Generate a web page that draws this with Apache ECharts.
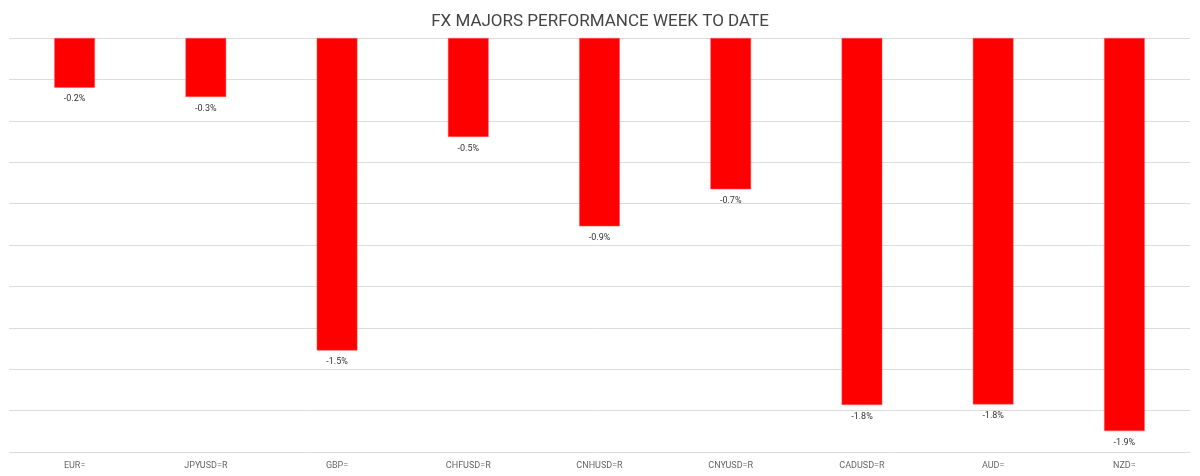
<!DOCTYPE html>
<html>
<head>
<meta charset="utf-8">
<title>FX majors</title>
<script src="https://cdn.jsdelivr.net/npm/echarts@6/dist/echarts.min.js"></script>
<style>
  *{margin:0;padding:0;}
  html,body{width:1200px;height:476px;background:#fff;}
  #main{width:1200px;height:476px;}
</style>
</head>
<body>
<div id="main"></div>
<script type="text/javascript">
// categories and weekly change in %
var categories = ['EUR=', 'JPYUSD=R', 'GBP=', 'CHFUSD=R', 'CNHUSD=R', 'CNYUSD=R', 'CADUSD=R', 'AUD=', 'NZD='];
var perf = [-0.24, -0.285, -1.51, -0.478, -0.91, -0.731, -1.773, -1.77, -1.899];

var chart = echarts.init(document.getElementById('main'));
var option = {
    animation: false,
    title: {
        text: 'FX MAJORS PERFORMANCE WEEK TO DATE',
        left: 'center',
        top: 8,
        textStyle: {
            fontFamily: 'Roboto',
            fontWeight: 'normal',
            fontSize: 17,
            color: '#444'
        }
    },
    grid: {
        left: 9,
        right: 10,
        top: 38,
        bottom: 24,
        containLabel: false
    },
    xAxis: {
        type: 'category',
        data: categories,
        axisLine: {show: false},
        axisTick: {show: false},
        axisLabel: {
            margin: 9,
            fontSize: 9,
            color: '#666',
            fontFamily: 'Roboto'
        }
    },
    yAxis: {
        type: 'value',
        min: -2,
        max: 0,
        interval: 0.2,
        axisLabel: {show: false},
        axisLine: {show: false},
        axisTick: {show: false},
        splitLine: {lineStyle: {color: '#dcdcdc', width: 1}}
    },
    series: [{
        type: 'bar',
        data: perf,
        barWidth: '31%',
        itemStyle: {
            color: '#ff0000',
            borderColor: '#ff5a5a',
            borderWidth: 0.5
        },
        label: {
            show: true,
            position: 'bottom',
            distance: 7,
            fontSize: 9,
            color: '#333',
            fontFamily: 'Roboto',
            formatter: function (p) {
                return p.value.toFixed(1) + '%';
            }
        }
    }]
};
chart.setOption(option);
</script>
</body>
</html>
